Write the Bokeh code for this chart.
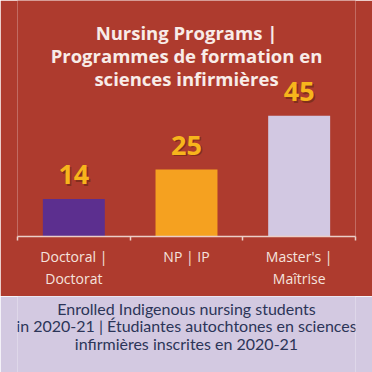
from bokeh.plotting import figure
from bokeh.models import (ColumnDataSource, Range1d, LinearAxis, FixedTicker, Label)
from bokeh.layouts import column
from bokeh.core.properties import value
from bokeh.embed import file_html
from bokeh.resources import INLINE

# ---- data ----
categories = ["Doctoral |\nDoctorat", "NP | IP", "Master's |\nMaîtrise"]
counts = [14, 25, 45]
bar_colors = ["#5C2F8F", "#F5A120", "#D2C8E2"]
title_lines = ["Nursing Programs |", "Programmes de formation en", "sciences infirmières"]
note_lines = ["Enrolled Indigenous nursing students",
              "in 2020-21 | Étudiantes autochtones en sciences",
              "infirmières inscrites en 2020-21"]

RED = "#AE3B2E"
LAV = "#D3C9E1"

ncat = len(categories)
centers = [i + 0.5 for i in range(ncat)]
edges = list(range(ncat + 1))

src = ColumnDataSource(dict(x=centers, n=counts, color=bar_colors,
                            label=[str(v) for v in counts]))

p = figure(x_range=Range1d(0, ncat), y_range=Range1d(0, 88),
           frame_width=338, frame_height=236,
           min_border_left=17, min_border_right=17, min_border_top=0, min_border_bottom=60,
           x_axis_location=None, y_axis_location=None,
           output_backend="svg", toolbar_location=None)
p.background_fill_color = RED
p.border_fill_color = RED
p.outline_line_color = None
p.grid.visible = False

p.vbar(x="x", top="n", width=0.55, color="color", source=src, line_color=None)

# value labels with shadow
p.text(x="x", y="n", text="label", source=src, x_offset=1.5, y_offset=-22.5,
       text_align="center", text_baseline="middle",
       text_font=value("Open Sans"), text_font_style="bold", text_font_size="27px",
       text_color="#6E2A14", text_alpha=0.7)
p.text(x="x", y="n", text="label", source=src, y_offset=-24,
       text_align="center", text_baseline="middle",
       text_font=value("Open Sans"), text_font_style="bold", text_font_size="27px",
       text_color="#F7B51C")

# category axis: labels at bar centres, tick marks at category edges
xaxis = LinearAxis(ticker=FixedTicker(ticks=centers, minor_ticks=edges),
                   major_label_overrides={c: t for c, t in zip(centers, categories)},
                   axis_line_color="#EBCFC8", axis_line_width=1.5,
                   major_tick_line_color=None, major_tick_in=0, major_tick_out=0,
                   minor_tick_line_color="#EBCFC8", minor_tick_line_width=1.5,
                   minor_tick_in=0, minor_tick_out=4,
                   major_label_text_font="Open Sans",
                   major_label_text_font_size="14px",
                   major_label_text_color="#F5E3DE",
                   major_label_text_line_height=1.2,
                   major_label_standoff=6)
p.add_layout(xaxis, "below")

ys = [204, 181, 158]
for t, y in zip(title_lines, ys):
    p.add_layout(Label(x=169, y=y, x_units="screen", y_units="screen", text=t,
                       text_align="center", text_baseline="alphabetic",
                       text_font="Open Sans", text_font_style="bold",
                       text_font_size="18.5px", text_color="#F8ECE8"))

# bottom note panel (frame matched to the chart's frame)
q = figure(frame_width=338, frame_height=76, x_range=Range1d(0, 1), y_range=Range1d(0, 1),
           min_border_left=17, min_border_right=17, min_border_top=0, min_border_bottom=0,
           x_axis_location=None, y_axis_location=None,
           output_backend="svg", toolbar_location=None)
q.background_fill_color = LAV
q.border_fill_color = LAV
q.outline_line_color = None
q.grid.visible = False
for t, y in zip(note_lines, [64, 47, 29]):
    q.add_layout(Label(x=169, y=y, x_units="screen", y_units="screen", text=t,
                       text_align="center", text_baseline="middle",
                       text_font="Lato", text_font_size="16px",
                       text_color="#2C3558"))

layout = column(p, q, spacing=0)
open("out.html", "w").write(file_html(layout, INLINE))
